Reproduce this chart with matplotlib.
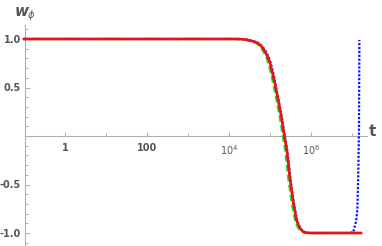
import numpy as np
import matplotlib
matplotlib.use("Agg")
import matplotlib.pyplot as plt
from matplotlib.ticker import FixedLocator, FuncFormatter

# curves: log10(t) and w_phi
red_logt = [-1.0, 4.20, 4.35, 4.45, 4.55, 4.63, 4.71, 4.80, 4.88, 4.95,
            5.00, 5.06, 5.12, 5.20, 5.29, 5.35, 5.41, 5.49, 5.57, 5.65,
            5.69, 5.73, 5.78, 5.83, 5.90, 6.00, 7.22]
red_w = [1.0, 1.0, 0.997, 0.99, 0.98, 0.97, 0.955, 0.92, 0.87, 0.81,
         0.75, 0.65, 0.54, 0.37, 0.165, 0.0, -0.144, -0.45, -0.69, -0.87,
         -0.915, -0.95, -0.975, -0.99, -0.998, -1.0, -1.0]

shift_green = -0.04
green_logt = [v + shift_green if 4.0 < v < 6.5 else v for v in red_logt]
green_w = red_w

blue_logt = [-1.0, 4.22, 4.37, 4.47, 4.57, 4.65, 4.73, 4.82, 4.90, 4.97,
             5.02, 5.08, 5.13, 5.21, 5.30, 5.36, 5.42, 5.50, 5.58, 5.66,
             5.70, 5.74, 5.79, 5.84, 5.91, 6.00, 6.95, 7.03, 7.10, 7.13,
             7.15, 7.17, 7.18]
blue_w = red_w[:-1] + [-1.0, -0.99, -0.88, -0.76, -0.45, 0.06, 0.99]

x_major = [1, 100, 1e4, 1e6]
x_major_labels = ["1", "100", "$10^4$", "$10^6$"]
x_minor = [10, 1e3, 1e5, 1e7]
y_major = [-1.0, -0.5, 0.0, 0.5, 1.0]
y_major_labels = ["-1.0", "-0.5", "", "0.5", "1.0"]

W, H = 382, 246
grey = "#555555"
axis_grey = "#b0b0b0"

fig = plt.figure(figsize=(W / 100, H / 100), dpi=100)
ax = fig.add_axes([0, 0, 1, 1])
ax.set_xscale("log")

# pixel frame: t=1 at x=65, 41 px per decade; w=0 at y=136, 97 px per unit
ax.set_xlim(10 ** (-65 / 41), 10 ** ((W - 65) / 41))
ax.set_ylim((136 - H) / 97, 136 / 97)

ax.plot(10.0 ** np.array(green_logt), green_w, color="#22dd22", lw=1.6,
        ls=(0, (3, 1.5)), zorder=3)
ax.plot(10.0 ** np.array(blue_logt), blue_w, color="#1010ff", lw=1.6,
        ls=(0, (1, 0.75)), zorder=4)
ax.plot(10.0 ** np.array(red_logt), red_w, color="#ee1111", lw=1.9, zorder=5)

x_axis_pos = 10 ** ((25 - 65) / 41)
for s in ["top", "right"]:
    ax.spines[s].set_visible(False)
ax.spines["left"].set_position(("data", x_axis_pos))
ax.spines["bottom"].set_position(("data", 0))
ax.spines["left"].set_bounds((136 - H) / 97, (136 - 25) / 97)
ax.spines["bottom"].set_bounds(x_axis_pos, 10 ** ((367 - 65) / 41))
for s in ["left", "bottom"]:
    ax.spines[s].set_color(axis_grey)
    ax.spines[s].set_linewidth(0.8)

ax.xaxis.set_major_locator(FixedLocator(x_major))
ax.xaxis.set_major_formatter(FuncFormatter(lambda v, p: x_major_labels[p] if p is not None and p < len(x_major_labels) else ""))
ax.xaxis.set_minor_locator(FixedLocator(x_minor))
ax.xaxis.set_minor_formatter(FuncFormatter(lambda v, p: ""))
ax.yaxis.set_major_locator(FixedLocator(y_major))
ax.yaxis.set_major_formatter(FuncFormatter(lambda v, p: y_major_labels[p] if p is not None and p < len(y_major_labels) else ""))
ax.yaxis.set_minor_locator(FixedLocator([v / 10 for v in range(-11, 12) if v % 5 != 0]))

ax.tick_params(which="both", direction="in", color=axis_grey, width=0.7,
               labelcolor=grey, labelsize=7)
ax.tick_params(axis="x", which="major", length=3, pad=5)
ax.tick_params(axis="x", which="minor", length=2.5)
ax.tick_params(axis="y", which="major", length=3.5, pad=3)
ax.tick_params(axis="y", which="minor", length=2)
for lab in ax.get_xticklabels() + ax.get_yticklabels():
    lab.set_fontweight("bold")

fig.text(372 / W, 1 - 131 / H, "t", color=grey, fontsize=11, fontweight="bold",
         ha="center", va="center")
fig.text(15 / W, 1 - 11 / H, "w", color=grey, fontsize=11, fontweight="bold",
         style="italic", ha="left", va="center")
fig.text(28 / W, 1 - 15 / H, "ϕ", color=grey, fontsize=7, style="italic",
         ha="left", va="center")

fig.savefig("out.png", dpi=100)
